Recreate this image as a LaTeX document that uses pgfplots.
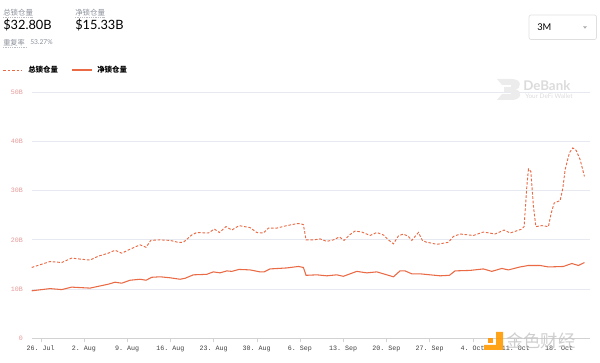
\documentclass[border=0pt]{standalone}
\usepackage{pgfplots}
\pgfplotsset{compat=1.18}
\usepackage{fontspec}
\setmainfont{Lato}
\setmonofont{Liberation Mono}
\newfontfamily\cjk{Noto Sans CJK SC}
\definecolor{lc}{HTML}{EA6A45}
\definecolor{gridc}{HTML}{E6E9F0}
\definecolor{ylab}{HTML}{E59A9A}
\definecolor{txtgray}{HTML}{8A8F99}
\begin{document}
\begin{tikzpicture}
\path[use as bounding box] (0,0) rectangle (450pt,272.25pt);
\begin{axis}[
  at={(23.775pt,18.525pt)}, anchor=south west,
  width=418.7pt, height=184.5pt, scale only axis,
  xmin=-1.46, xmax=89, ymin=0, ymax=50,
  axis x line*=bottom, axis y line*=left,
  separate axis lines,
  x axis line style={draw=gray!35, -},
  y axis line style={draw=none},
  xtick={0,7,...,84},
  xticklabels={26. Jul,2. Aug,9. Aug,16. Aug,23. Aug,30. Aug,6. Sep,13. Sep,20. Sep,27. Sep,4. Oct,11. Oct,18. Oct},
  ytick={0,10,...,50},
  yticklabels={0,10B,20B,30B,40B,50B},
  xtick align=outside,
  major tick length=3pt,
  xtick style={draw=gray!35},
  ytick style={draw=none},
  ymajorgrids, grid style={gridc, line width=0.6pt},
  tick label style={font=\ttfamily\fontsize{5}{6}\selectfont},
  yticklabel style={ylab, anchor=east, xshift=-3pt},
  xticklabel style={black!75, yshift=1pt},
  /pgf/number format/assume math mode=true,
  clip=false,
]
\addplot[lc, line width=0.7pt, dash pattern=on 2pt off 1.3pt] coordinates {
(-1.46,14.4)(1.51,15.6)(3.40,15.4)(5.02,16.3)(6.37,16.1)(7.99,15.9)(9.34,16.7)(10.96,17.3)(12.04,17.9)(13.13,17.3)(14.47,18.1)(16.09,19.0)(17.07,18.5)(17.83,19.9)(19.34,20.0)(20.96,19.9)(22.30,19.5)(23.11,19.5)(24.47,21.0)(25.28,21.5)(27.16,21.4)(28.14,22.2)(28.95,21.5)(30.03,22.7)(30.96,22.0)(32.14,22.9)(33.92,22.5)(35.01,21.5)(36.08,21.4)(36.89,22.4)(38.25,22.4)(39.87,22.9)(41.49,23.3)(42.03,23.3)(42.56,23.1)(43.00,20.0)(44.18,20.0)(45.27,20.2)(46.35,19.7)(47.42,20.0)(48.40,20.6)(49.16,19.9)(50.02,21.0)(50.94,21.8)(52.03,21.6)(53.37,20.9)(54.46,21.5)(55.53,21.0)(56.34,20.0)(57.15,19.2)(57.96,20.8)(58.77,21.2)(59.58,20.7)(60.13,19.9)(61.20,21.5)(61.85,19.9)(62.56,19.5)(63.10,19.4)(64.18,19.1)(66.06,19.5)(66.87,20.7)(67.96,21.2)(70.11,20.9)(71.73,21.6)(73.63,21.2)(75.09,22.0)(76.06,21.4)(77.96,22.2)(78.33,22.7)(78.77,30.9)(79.03,34.4)(79.42,33.9)(79.84,26.8)(80.23,22.7)(81.20,22.9)(82.27,22.7)(82.71,25.4)(83.20,27.5)(84.17,28.0)(84.60,30.5)(84.98,34.3)(85.67,37.7)(86.22,38.7)(86.76,38.2)(87.41,36.3)(88.10,32.9)
};
\addplot[lc, line width=0.8pt] coordinates {
(-1.46,9.65)(1.51,10.1)(3.40,9.9)(5.02,10.4)(7.99,10.2)(10.96,11.0)(12.04,11.4)(13.13,11.2)(14.47,11.8)(16.09,12.0)(17.07,11.8)(17.99,12.4)(19.34,12.5)(20.96,12.3)(22.58,12.0)(23.39,12.2)(24.73,12.9)(26.90,13.0)(27.97,13.5)(29.06,13.3)(30.15,13.7)(30.96,13.6)(32.14,14.0)(33.92,13.9)(35.54,13.5)(36.19,13.5)(37.16,14.1)(39.87,14.3)(41.75,14.6)(42.56,14.4)(43.00,12.8)(44.73,12.9)(46.35,12.7)(47.97,12.9)(49.04,12.6)(51.21,13.6)(52.84,13.3)(54.46,13.5)(57.15,12.5)(58.23,13.7)(59.04,13.7)(60.13,13.1)(61.47,13.1)(63.10,12.9)(64.72,12.7)(66.22,12.8)(67.14,13.7)(69.57,13.8)(71.73,14.1)(73.09,13.6)(74.71,14.2)(75.78,13.9)(77.67,14.5)(79.03,14.8)(80.92,14.8)(82.27,14.5)(84.70,14.6)(86.06,15.2)(87.13,14.8)(88.10,15.4)
};
\end{axis}
\begin{scope}[x=0.75pt,y=-0.75pt,yshift=272.25pt]
 % header
 \node[anchor=west, inner sep=0, txtgray, font=\cjk\fontsize{5.6}{6}\selectfont] at (3,12.5) {总锁仓量};
 \draw[txtgray!60, dash pattern=on 1pt off 0.7pt, line width=0.3pt] (3,17.5) -- (33,17.5);
 \node[anchor=west, inner sep=0, font=\fontsize{9.6}{11}\selectfont] at (3,25.5) {\$32.80B};
 \node[anchor=west, inner sep=0, txtgray, font=\cjk\fontsize{5.6}{6}\selectfont] at (75,12.5) {净锁仓量};
 \draw[txtgray!60, dash pattern=on 1pt off 0.7pt, line width=0.3pt] (75,17.5) -- (105,17.5);
 \node[anchor=west, inner sep=0, font=\fontsize{9.6}{11}\selectfont] at (75,25.5) {\$15.33B};
 \node[anchor=west, inner sep=0, txtgray, font=\cjk\fontsize{5.4}{6}\selectfont] at (3,42.5) {重复率};
 \draw[txtgray!60, dash pattern=on 1pt off 0.7pt, line width=0.3pt] (3,47) -- (26,47);
 \node[anchor=west, inner sep=0, txtgray, font=\fontsize{5}{6}\selectfont] at (30,42.5) {53.27\%};
 % legend
 \draw[lc, line width=0.7pt, dash pattern=on 2pt off 1.3pt] (3.3,70) -- (22,70);
 \node[anchor=west, inner sep=0, font=\cjk\bfseries\fontsize{5.6}{6}\selectfont] at (28,70) {总锁仓量};
 \draw[lc, line width=0.8pt] (72,70) -- (92,70);
 \node[anchor=west, inner sep=0, font=\cjk\bfseries\fontsize{5.6}{6}\selectfont] at (97,70) {净锁仓量};
 % 3M box
 \draw[gray!25, rounded corners=1.5pt, line width=0.5pt] (529,15) rectangle (596.5,39.5);
 \node[anchor=west, inner sep=0, font=\fontsize{7}{8}\selectfont] at (537,27.5) {3M};
 \fill[gray!70] (583,26.3) -- (587,26.3) -- (585,28.6) -- cycle;
 % DeBank watermark
 \fill[gray!15] (497,79) -- (512,79) .. controls (522,79) and (522,89) .. (515,89.5) .. controls (523,90) and (522,100) .. (512,100) -- (497,100) -- (502,94) -- (511,94) -- (511,92) -- (504,92) -- (504,87) -- (511,87) -- (511,85) -- (502,85) -- cycle;
 \node[anchor=west, inner sep=0, gray!28, font=\bfseries\fontsize{10}{11}\selectfont] at (523,86) {DeBank};
 \node[anchor=west, inner sep=0, gray!28, font=\fontsize{4.8}{5}\selectfont] at (525,96.5) {Your DeFi Wallet};
 % jinse watermark
 \fill[orange!85!yellow, opacity=0.9] (488,338) rectangle (493,343);
 \fill[orange!80!yellow, opacity=0.9] (496,332) rectangle (503,349) (484,345) rectangle (503,350);
 \node[anchor=west, inner sep=0, gray!45, opacity=0.85, font=\cjk\fontsize{13}{14}\selectfont] at (506,341) {金色财经};
\end{scope}
\end{tikzpicture}
\end{document}
